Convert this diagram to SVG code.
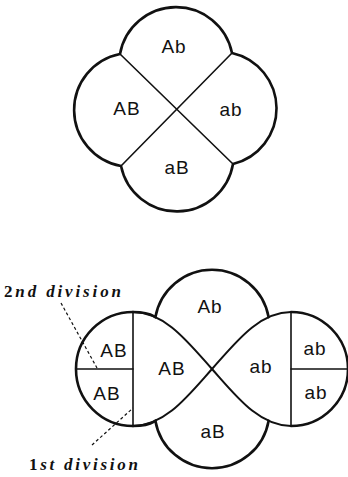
<svg xmlns="http://www.w3.org/2000/svg" width="348" height="477" viewBox="0 0 348 477">
<style>
.bg{fill:#ffffff}
.outer{fill:none;stroke:#111;stroke-width:2.6;stroke-linejoin:round;stroke-linecap:round}
.inner{fill:none;stroke:#111;stroke-width:1.6;stroke-linecap:round}
.curve{fill:none;stroke:#111;stroke-width:2}
.lead{fill:none;stroke:#111;stroke-width:1.2;stroke-dasharray:3 2.5}
.lbl{font-family:"Liberation Sans",Arial,sans-serif;font-size:19px;fill:#111;text-anchor:middle;letter-spacing:1px}
.note{font-family:"Liberation Serif","Times New Roman",serif;font-size:17px;font-style:italic;font-weight:bold;fill:#111}
.up{font-style:normal}
</style>
<rect class="bg" x="0" y="0" width="348" height="477"/>

<g id="top-diagram">
  <g id="connectors-top">
    <line class="inner" x1="120" y1="54" x2="233" y2="164"/>
    <line class="inner" x1="232" y1="53" x2="121" y2="166"/>
  </g>
  <path class="outer" d="M120,54 A57,57 0 0 1 232,53 A57,57 0 0 1 233,164 A57,57 0 0 1 121,166 A57,57 0 0 1 120,54 Z"/>
  <g id="t-Ab"><text class="lbl" x="174" y="53">Ab</text></g>
  <g id="t-AB"><text class="lbl" x="127" y="115">AB</text></g>
  <g id="t-ab"><text class="lbl" x="231" y="116">ab</text></g>
  <g id="t-aB"><text class="lbl" x="177" y="174">aB</text></g>
</g>

<g id="bottom-diagram">
  <g id="connectors-bottom">
    <path class="curve" d="M133,312 C165,312 188,342 212,369 C236,396 259,426 291,426"/>
    <path class="curve" d="M133,426 C165,426 188,396 212,369 C236,342 259,312 291,312"/>
    <line class="inner" x1="133" y1="312" x2="133" y2="426"/>
    <line class="inner" x1="291" y1="312" x2="291" y2="426"/>
    <line class="inner" x1="76" y1="369" x2="133" y2="369"/>
    <line class="inner" x1="291" y1="369" x2="348" y2="369"/>
    <line class="lead" x1="61" y1="303" x2="97" y2="368"/>
    <line class="lead" x1="92" y1="445" x2="133" y2="408"/>
  </g>
  <g id="lobe-top"><path class="outer" d="M155.4,317.1 A57.5,57.5 0 0 1 268.6,317.1"/>
    <text class="lbl" x="210" y="313">Ab</text></g>
  <g id="lobe-bottom"><path class="outer" d="M155.4,420.9 A57.5,57.5 0 0 0 268.6,420.9"/>
    <text class="lbl" x="213" y="438">aB</text></g>
  <g id="left-cell"><path class="outer" d="M133,312 A57,57 0 0 0 133,426"/>
    <path class="outer" d="M133,312 C150,312 153,316 155.4,317.1 M133,426 C150,426 153,422 155.4,420.9"/>
    <text class="lbl" x="114" y="357">AB</text>
    <text class="lbl" x="107" y="400">AB</text></g>
  <g id="left-lobe"><text class="lbl" x="172" y="375">AB</text></g>
  <g id="right-lobe"><text class="lbl" x="261" y="373">ab</text></g>
  <g id="right-cell"><path class="outer" d="M291,312 A57,57 0 0 1 291,426"/>
    <text class="lbl" x="315" y="355">ab</text>
    <text class="lbl" x="316" y="399">ab</text></g>
  <g id="note-2nd"><text class="note" x="4" y="297" textLength="117" lengthAdjust="spacing"><tspan class="up">2</tspan>nd division</text></g>
  <g id="note-1st"><text class="note" x="29" y="470" textLength="109" lengthAdjust="spacing"><tspan class="up">1</tspan>st division</text></g>
</g>
</svg>
